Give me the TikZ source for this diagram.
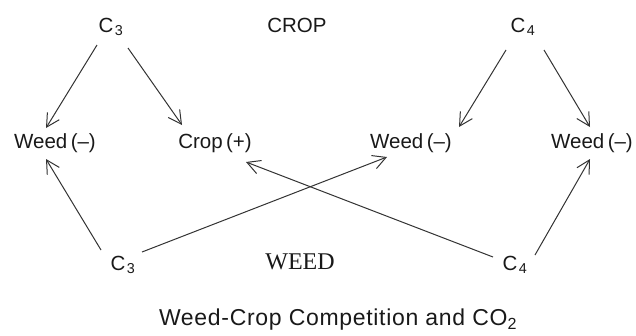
\documentclass[tikz,border=0pt]{standalone}
\usepackage{fontspec}
\setmainfont{Liberation Sans}
\newfontfamily\timesfont{Liberation Serif}
\newfontfamily\capfont[LetterSpace=3]{Liberation Sans}
\usetikzlibrary{arrows.meta,calc}

\begin{document}
\begin{tikzpicture}[x=1pt,y=-1pt,
   lbl/.style={inner sep=0pt,text=black!90,font=\fontsize{20.5}{23}\selectfont},
   arr/.style={-{Straight Barb[length=13pt,width=14pt]},line width=1pt,draw=black!80}]
\useasboundingbox (0,0) rectangle (636,335);
% Crop row
\node[lbl] (c3t) at (111,27) {C\kern1.5pt\textsubscript{3}};
\node[lbl] (crop) at (297,25) {CROP};
\node[lbl] (c4t) at (523,27) {C\kern1.5pt\textsubscript{4}};
% Middle row
\node[lbl] (wl) at (55,143) {Weed\,(–)};
\node[lbl] (cp) at (215,143) {Crop\,(+)};
\node[lbl] (wm) at (411,143) {Weed\,(–)};
\node[lbl] (wr) at (592,143) {Weed\,(–)};
% Weed row
\node[lbl] (c3b) at (123,265) {C\kern1.5pt\textsubscript{3}};
\node[lbl,font=\timesfont\fontsize{24}{26}\selectfont] (weed) at (300,262) {WEED};
\node[lbl] (c4b) at (515,265) {C\kern1.5pt\textsubscript{4}};
\node[lbl,font=\capfont\fontsize{23}{26}\selectfont] (cap) at (338,320) {Weed-Crop Competition and CO\textsubscript{2}};
% Arrows
\draw[arr] ($(c3t)+(-14,18)$) -- ($(wl)+(-9,-15)$);
\draw[arr] ($(c3t)+(17,21)$) -- ($(cp)+(-33,-18)$);
\draw[arr] ($(c4t)+(-17,23)$) -- ($(wm)+(48,-16)$);
\draw[arr] ($(c4t)+(21,23)$) -- ($(wr)+(-2,-16)$);
\draw[arr] ($(c3b)+(-22,-15)$) -- ($(wl)+(-9,16)$);
\draw[arr] ($(c3b)+(19,-13)$) -- ($(wm)+(-24,14)$);
\draw[arr] ($(c4b)+(-22,-8)$) -- ($(cp)+(31,19)$);
\draw[arr] ($(c4b)+(20,-10)$) -- ($(wr)+(-2,16)$);
\end{tikzpicture}
\end{document}
